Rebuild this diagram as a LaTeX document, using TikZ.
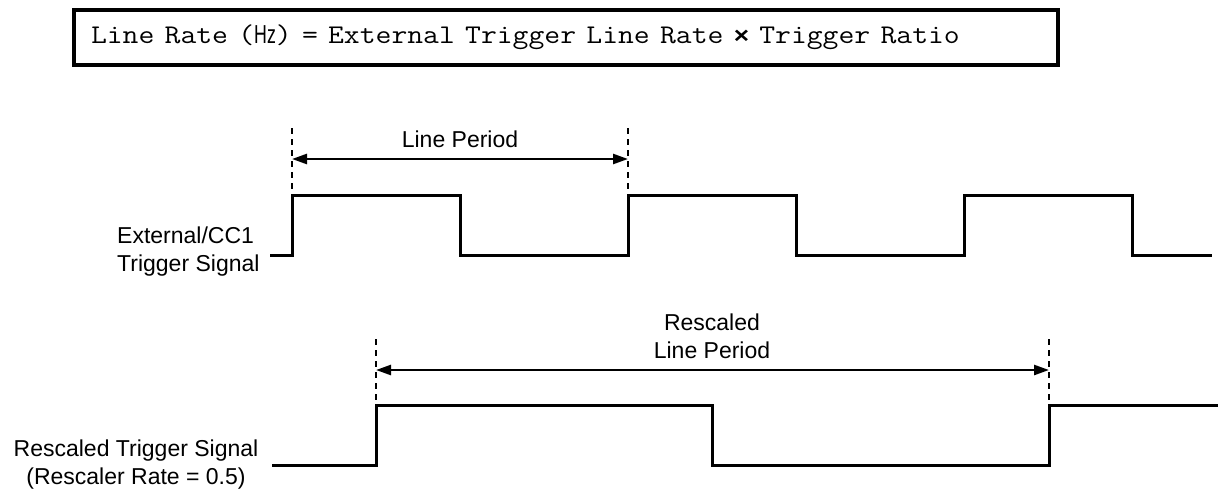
\documentclass[tikz,border=0pt]{standalone}
\usepackage{fontspec}
\setmainfont{Liberation Sans}
\newfontfamily\monof{Latin Modern Mono}
\newfontfamily\sansf{Liberation Sans}
\usetikzlibrary{arrows.meta}
\tikzset{
  sig/.style={line width=3pt, line join=miter},
  guide/.style={line width=2pt, dash pattern=on 6pt off 5pt},
  dim/.style={line width=2.5pt, {Triangle[length=15pt,width=10pt]}-{Triangle[length=15pt,width=10pt]}},
  lbl/.style={font=\fontsize{23}{28}\selectfont, inner sep=0pt},
  eqbox/.style={draw, line width=3.5pt, anchor=north west, minimum height=55pt, text width=950pt, inner xsep=17pt, inner ysep=0pt, outer sep=0pt, font=\fontsize{27}{30}\selectfont}
}
\begin{document}
\begin{tikzpicture}[x=1pt,y=-1pt]
\useasboundingbox (0,0) rectangle (1220,493);
% equation box
\node[eqbox] (eq) at (74,10) {\scalebox{1.14}[1]{{\monof Line Rate (}{\sansf\fontsize{26}{28}\selectfont\scalebox{0.6}[1]{Hz}}{\monof ) = External Trigger Line Rate }{\sansf\bfseries\fontsize{23}{26}\selectfont ×}{\monof{} Trigger Ratio}}};
% top signal
\draw[sig] (270,255) -- (292,255) -- (292,195) -- (460,195) -- (460,255) -- (628,255) -- (628,195) -- (796,195) -- (796,255) -- (964,255) -- (964,195) -- (1132,195) -- (1132,255) -- (1212,255);
\coordinate (t1top) at (292,128);
\coordinate (t1bot) at (292,195);
\coordinate (t2top) at (628,128);
\coordinate (t2bot) at (628,195);
\draw[guide] (t1top) -- (t1bot);
\draw[guide] (t2top) -- (t2bot);
\coordinate (ta) at (292,159);
\coordinate (tb) at (628,159);
\draw[dim] (ta) -- (tb);
\node[lbl] (lp) at (460,139) {Line Period};
\node[lbl, align=left, anchor=west] (ext) at (117,252) {External/CC1\\Trigger Signal};
% bottom signal
\draw[sig] (272,465) -- (376,465) -- (376,405) -- (712,405) -- (712,465) -- (1049,465) -- (1049,405) -- (1218,405);
\coordinate (b1top) at (376,339);
\coordinate (b1bot) at (376,405);
\coordinate (b2top) at (1049,339);
\coordinate (b2bot) at (1049,405);
\draw[guide] (b1top) -- (b1bot);
\draw[guide] (b2top) -- (b2bot);
\coordinate (ba) at (376,370);
\coordinate (bb) at (1049,370);
\draw[dim] (ba) -- (bb);
\node[lbl, align=center] (rlp) at (712,336) {Rescaled\\Line Period};
\node[lbl, align=center] (rts) at (136,465) {Rescaled Trigger Signal\\(Rescaler Rate = 0.5)};
\end{tikzpicture}
\end{document}
